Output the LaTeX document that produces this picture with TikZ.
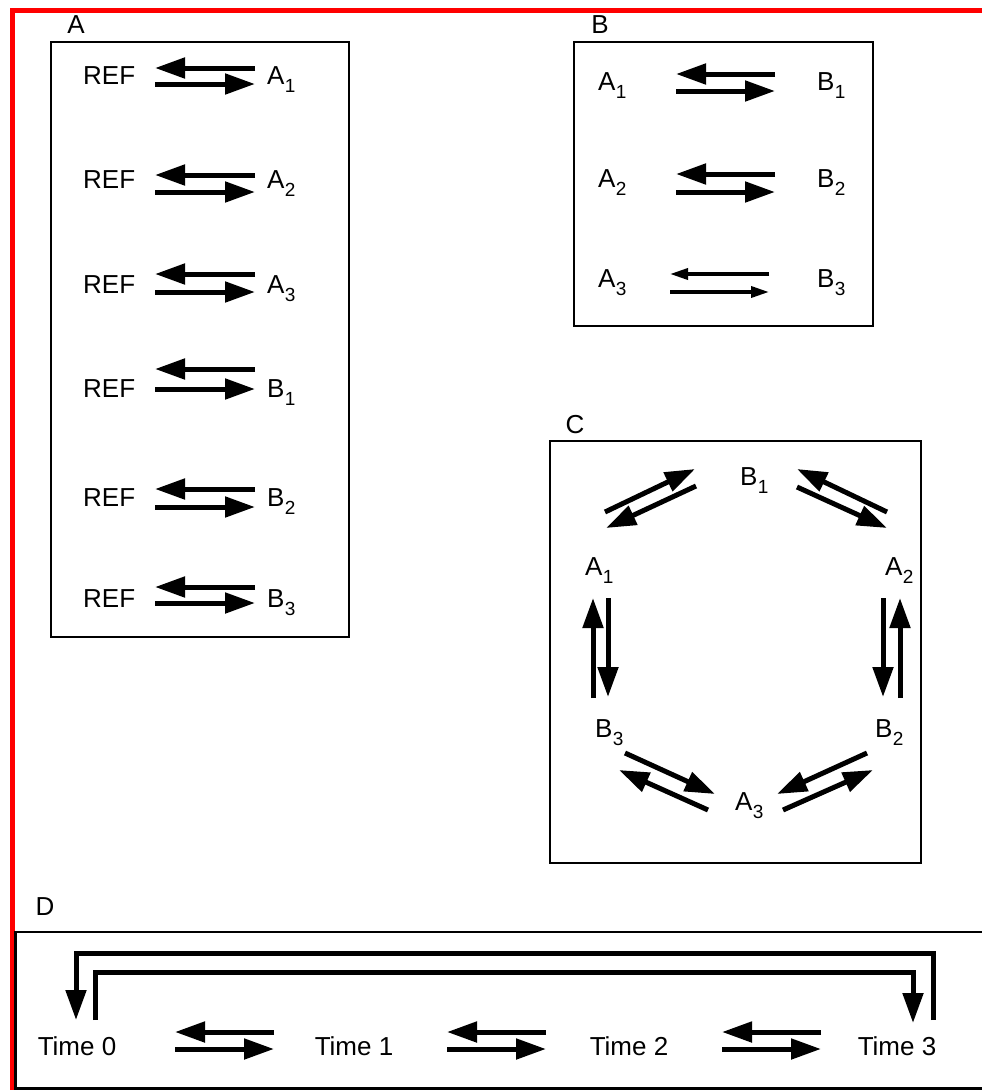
\documentclass[tikz,border=0pt]{standalone}
\usepackage{fontspec}
\setmainfont{Liberation Sans}
\usetikzlibrary{arrows.meta}

% species name with a lowered index
\newcommand{\spc}[2]{#1\kern0.3pt\raisebox{-8pt}{\fontsize{19}{19}\selectfont #2}}

\begin{document}
\begin{tikzpicture}[x=1pt,y=-1pt,
  txt/.style={inner sep=0pt, font=\fontsize{26}{30}\selectfont, anchor=base west},
  ctxt/.style={txt, anchor=base},
  panel/.style={draw=black, line width=2.2pt},
  rxn/.style={line width=5pt, -{Triangle[length=30pt,width=20pt]}},
  weakrxn/.style={line width=3.5pt, -{Triangle[length=18pt,width=11pt]}},
]
\useasboundingbox (0,0) rectangle (982,1090);

% outer red frame
\draw[red, line width=5pt] (12,1092) -- (12,10.5) -- (984,10.5);

% ---------- panel A ----------
\node[ctxt] (labA) at (76,33) {A};
\draw[panel] (51,42) rectangle (349,637);
\foreach \up/\lo/\bl [count=\i] in {68/84/84, 175/192/188, 274/292/293,
                                  369/389/397, 489/507/506, 587/603/607}{
  \node[txt] (ref\i) at (83,\bl) {REF};
  \draw[rxn] (255,\up) -- (155,\up);
  \draw[rxn] (155,\lo) -- (255,\lo);
}
\node[txt] (a1) at (267,84)  {\spc{A}{1}};
\node[txt] (a2) at (267,188) {\spc{A}{2}};
\node[txt] (a3) at (267,293) {\spc{A}{3}};
\node[txt] (b1) at (267,397) {\spc{B}{1}};
\node[txt] (b2) at (267,506) {\spc{B}{2}};
\node[txt] (b3) at (267,607) {\spc{B}{3}};

% ---------- panel B ----------
\node[ctxt] (labB) at (600,33) {B};
\draw[panel] (574,42) rectangle (873,326);
\node[txt] (pa1) at (598,90)  {\spc{A}{1}};
\node[txt] (pb1) at (817,90)  {\spc{B}{1}};
\node[txt] (pa2) at (598,187) {\spc{A}{2}};
\node[txt] (pb2) at (817,187) {\spc{B}{2}};
\node[txt] (pa3) at (598,287) {\spc{A}{3}};
\node[txt] (pb3) at (817,287) {\spc{B}{3}};
\draw[rxn] (775,74) -- (676,74);
\draw[rxn] (676,91) -- (775,91);
\draw[rxn] (775,174) -- (676,174);
\draw[rxn] (676,192) -- (775,192);
\draw[weakrxn] (769,274) -- (670,274);
\draw[weakrxn] (670,292) -- (769,292);

% ---------- panel C ----------
\node[ctxt] (labC) at (575,433) {C};
\draw[panel] (550,441) rectangle (921,863);
\node[txt] (cb1) at (740,485) {\spc{B}{1}};
\node[txt] (ca1) at (585,575) {\spc{A}{1}};
\node[txt] (ca2) at (885,575) {\spc{A}{2}};
\node[txt] (cb3) at (595,737) {\spc{B}{3}};
\node[txt] (cb2) at (875,737) {\spc{B}{2}};
\node[txt] (ca3) at (735,810) {\spc{A}{3}};
% A1 <-> B1
\draw[rxn] (605,512) -- (695,469);
\draw[rxn] (696,486) -- (606,528);
% B1 <-> A2
\draw[rxn] (887,512) -- (797,469);
\draw[rxn] (797,487) -- (887,528);
% A1 <-> B3
\draw[rxn] (593,698) -- (593,598);
\draw[rxn] (608,598) -- (608,697);
% A2 <-> B2
\draw[rxn] (883,598) -- (883,697);
\draw[rxn] (900,698) -- (900,598);
% B3 <-> A3
\draw[rxn] (625,753) -- (715,794);
\draw[rxn] (708,810) -- (619,770);
% A3 <-> B2
\draw[rxn] (867,753) -- (777,794);
\draw[rxn] (783,810) -- (873,770);

% ---------- panel D ----------
\node[ctxt] (labD) at (45,915) {D};
\draw[black, line width=2.2pt] (986,932) -- (15.5,932) -- (15.5,1088.5) -- (986,1088.5);
\node[ctxt] (t0) at (77,1055)  {Time 0};
\node[ctxt] (t1) at (354,1055) {Time 1};
\node[ctxt] (t2) at (629,1055) {Time 2};
\node[ctxt] (t3) at (897,1055) {Time 3};
\foreach \xa/\xb in {175/274, 447/546, 722/821}{
  \draw[rxn] (\xb,1032) -- (\xa,1032);
  \draw[rxn] (\xa,1049) -- (\xb,1049);
}
% wrap-around steps between the last and first time points
\draw[rxn, line join=miter] (933,1020) -- (933,953) -- (76,953) -- (76,1020);
\draw[rxn, line join=miter] (95,1020) -- (95,972) -- (913,972) -- (913,1023);
\end{tikzpicture}
\end{document}
